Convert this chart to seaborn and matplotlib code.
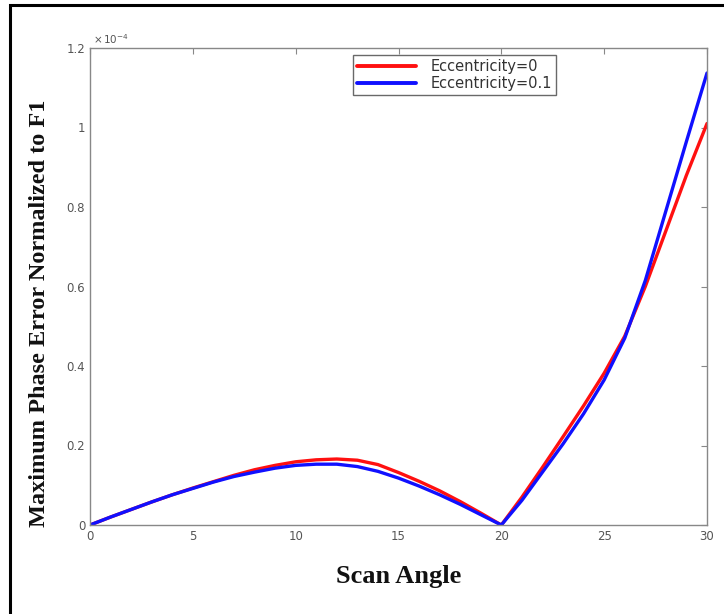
import numpy as np
import pandas as pd
import matplotlib
matplotlib.use("Agg")
import matplotlib.pyplot as plt
import seaborn as sns
from matplotlib.patches import Rectangle

# Data (values in units of 1e-4)
scan_angle = list(range(0, 31))
err_ecc_0 = [0, 0.020, 0.039, 0.058, 0.076, 0.093, 0.109, 0.125, 0.139, 0.150,
             0.159, 0.164, 0.166, 0.163, 0.152, 0.132, 0.110, 0.086, 0.059, 0.030,
             0.0, 0.070, 0.145, 0.222, 0.300, 0.382, 0.475, 0.600, 0.740, 0.880, 1.010]
err_ecc_01 = [0, 0.020, 0.039, 0.058, 0.076, 0.092, 0.108, 0.122, 0.133, 0.143,
              0.150, 0.153, 0.153, 0.147, 0.135, 0.118, 0.098, 0.076, 0.052, 0.026,
              0.0, 0.062, 0.133, 0.204, 0.280, 0.365, 0.470, 0.615, 0.790, 0.965, 1.137]
series_labels = ["Eccentricity=0", "Eccentricity=0.1"]
x_ticks = [0, 5, 10, 15, 20, 25, 30]
y_ticks = [0, 0.2, 0.4, 0.6, 0.8, 1.0, 1.2]
y_tick_labels = ["0", "0.2", "0.4", "0.6", "0.8", "1", "1.2"]

df = pd.DataFrame({
    "Scan Angle": scan_angle * 2,
    "Error": err_ecc_0 + err_ecc_01,
    "Series": [series_labels[0]] * len(scan_angle) + [series_labels[1]] * len(scan_angle),
})

sns.set_style("white")
fig = plt.figure(figsize=(7.24, 6.14), dpi=100)
ax = fig.add_axes([90 / 724, 1 - 525 / 614, (707 - 90) / 724, (525 - 48) / 614])

sns.lineplot(data=df, x="Scan Angle", y="Error", hue="Series",
             palette={series_labels[0]: "#ff1010", series_labels[1]: "#1010ff"},
             linewidth=2.4, ax=ax, legend=True)

ax.set_xlim(0, 30)
ax.set_ylim(0, 1.2)
ax.set_xticks(x_ticks)
ax.set_yticks(y_ticks)
ax.set_yticklabels(y_tick_labels)
ax.tick_params(direction="in", length=4, width=0.8, colors="#888888",
               labelcolor="#555555", labelsize=8.5, top=True, right=True)
for s in ax.spines.values():
    s.set_color("#888888")
    s.set_linewidth(1.0)

serif = ["Liberation Serif", "DejaVu Serif"]
ax.set_xlabel("Scan Angle", fontsize=19, fontweight="bold", family=serif, color="#111111")
ax.xaxis.set_label_coords(0.5, -(577 - 525) / 477, transform=ax.transAxes)
ax.xaxis.label.set_va("center")
ax.set_ylabel("Maximum Phase Error Normalized to F1", fontsize=17.5, fontweight="bold",
              family=serif, color="#111111")
ax.yaxis.set_label_coords(-(90 - 40) / 617, 1 - (313 - 48) / 477, transform=ax.transAxes)
ax.yaxis.label.set_va("center")
ax.text(0.005, 1.005, r"$\times\,10^{-4}$", transform=ax.transAxes, fontsize=7.5,
        color="#555555", ha="left", va="bottom")

leg = ax.legend(loc="upper left", bbox_to_anchor=((353 - 90) / 617, 1 - (55 - 48) / 477),
                borderaxespad=0, fontsize=10.5, frameon=True, fancybox=False,
                borderpad=0.3, handlelength=4.0, labelspacing=0.1, handletextpad=1.0)
leg.get_frame().set_edgecolor("#444444")
leg.get_frame().set_linewidth(1.0)
for t in leg.get_texts():
    t.set_color("#333333")
for h in leg.get_lines():
    h.set_linewidth(2.8)

# outer black frame (cut off at right and bottom)
fig.patches.append(Rectangle((9.5 / 724, -0.1), 1.2, 1.1 - 5.5 / 614,
                             transform=fig.transFigure, fill=False,
                             edgecolor="black", linewidth=2.2))

fig.savefig("out.png", dpi=100, facecolor="white")
